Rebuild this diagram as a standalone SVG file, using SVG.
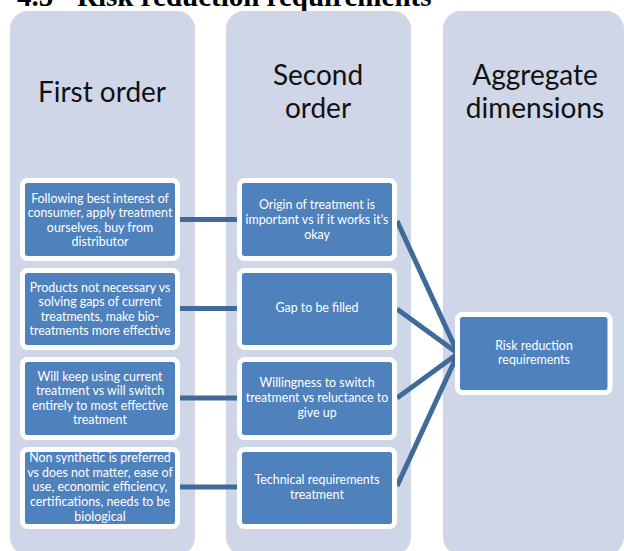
<svg xmlns="http://www.w3.org/2000/svg" width="624" height="551" viewBox="0 0 624 551">
<style>
.col{fill:#cfd6e7}
.box{fill:#4f81bd;stroke:#ffffff;stroke-width:5}
.hd{font-family:Lato,"Open Sans",sans-serif;font-size:28px;fill:#111111;text-anchor:middle}
.t{font-family:Lato,"Open Sans",sans-serif;font-size:12.4px;fill:#ffffff;text-anchor:middle}
.title{font-family:"Liberation Serif",serif;font-weight:bold;font-size:29px;fill:#000000}
.cn{stroke:#3f6a9a;stroke-width:5;fill:none}
</style>
<rect width="624" height="551" fill="#ffffff"/>
<g id="title">
<text class="title" x="17" y="6">4.5</text>
<text class="title" x="77" y="6">Risk reduction requirements</text>
</g>
<g id="col-first">
<rect class="col" x="10" y="11" width="185" height="544" rx="18"/>
<text class="hd" x="102" y="102">First order</text>
</g>
<g id="col-second">
<rect class="col" x="226" y="11" width="185" height="544" rx="18"/>
<text class="hd" x="318" y="85">Second</text>
<text class="hd" x="318" y="118">order</text>
</g>
<g id="col-aggregate">
<rect class="col" x="443" y="11" width="181" height="544" rx="18"/>
<text class="hd" x="535" y="85">Aggregate</text>
<text class="hd" x="535" y="118">dimensions</text>
</g>
<g id="connectors">
<line class="cn" x1="180" y1="219.5" x2="237" y2="219.5"/>
<line class="cn" x1="180" y1="308.5" x2="237" y2="308.5"/>
<line class="cn" x1="180" y1="398" x2="237" y2="398"/>
<line class="cn" x1="180" y1="487" x2="237" y2="487"/>
<line class="cn" x1="397" y1="221" x2="458" y2="353.5"/>
<line class="cn" x1="397" y1="309" x2="458" y2="353.5"/>
<line class="cn" x1="397" y1="398" x2="458" y2="353.5"/>
<line class="cn" x1="397" y1="486" x2="458" y2="353.5"/>
</g>
<g id="f1">
<rect class="box" x="22.5" y="180.5" width="155" height="78" rx="5"/>
<text class="t" x="100" y="202.5">Following best interest of</text>
<text class="t" x="100" y="217">consumer, apply treatment</text>
<text class="t" x="100" y="231.5">ourselves, buy from</text>
<text class="t" x="100" y="246">distributor</text>
</g>
<g id="f2">
<rect class="box" x="22.5" y="270.5" width="155" height="77" rx="5"/>
<text class="t" x="100" y="291.5">Products not necessary vs</text>
<text class="t" x="100" y="306">solving gaps of current</text>
<text class="t" x="100" y="320.5">treatments, make bio-</text>
<text class="t" x="100" y="335">treatments more effective</text>
</g>
<g id="f3">
<rect class="box" x="22.5" y="359.5" width="155" height="78" rx="5"/>
<text class="t" x="100" y="380.5">Will keep using current</text>
<text class="t" x="100" y="395">treatment vs will switch</text>
<text class="t" x="100" y="409.5">entirely to most effective</text>
<text class="t" x="100" y="424">treatment</text>
</g>
<g id="f4">
<rect class="box" x="22.5" y="449.5" width="155" height="77" rx="5"/>
<text class="t" x="100" y="462">Non synthetic is preferred</text>
<text class="t" x="100" y="476.7">vs does not matter, ease of</text>
<text class="t" x="100" y="491.4">use, economic efficiency,</text>
<text class="t" x="100" y="506.1">certifications, needs to be</text>
<text class="t" x="100" y="520.8">biological</text>
</g>
<g id="s1">
<rect class="box" x="239.5" y="180.5" width="155" height="78" rx="5"/>
<text class="t" x="317" y="209">Origin of treatment is</text>
<text class="t" x="317" y="224">important vs if it works it's</text>
<text class="t" x="317" y="239">okay</text>
</g>
<g id="s2">
<rect class="box" x="239.5" y="270.5" width="155" height="77" rx="5"/>
<text class="t" x="317" y="312">Gap to be filled</text>
</g>
<g id="s3">
<rect class="box" x="239.5" y="359.5" width="155" height="78" rx="5"/>
<text class="t" x="317" y="387">Willingness to switch</text>
<text class="t" x="317" y="402">treatment vs reluctance to</text>
<text class="t" x="317" y="417">give up</text>
</g>
<g id="s4">
<rect class="box" x="239.5" y="449.5" width="155" height="77" rx="5"/>
<text class="t" x="317" y="484">Technical requirements</text>
<text class="t" x="317" y="499">treatment</text>
</g>
<g id="a1">
<rect class="box" x="457.5" y="314.5" width="152.5" height="78" rx="5"/>
<text class="t" x="534" y="350">Risk reduction</text>
<text class="t" x="534" y="364">requirements</text>
</g>
</svg>
